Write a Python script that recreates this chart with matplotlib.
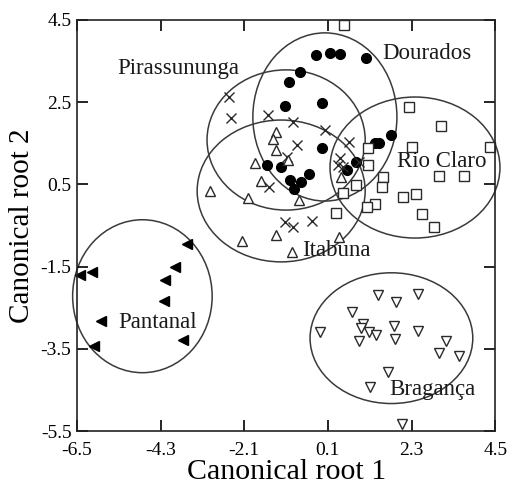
import matplotlib
matplotlib.use("Agg")
import matplotlib.pyplot as plt
from matplotlib.patches import Ellipse

plt.rcParams['font.family'] = ['Liberation Serif', 'DejaVu Serif']

# Data (canonical root 1, canonical root 2)
dourados_x = [-0.21, 0.16, 0.42, 1.11, -0.63, -0.92, -1.03, -0.05, 1.76, 1.34, 1.45, -0.05, 0.84, 0.61, -1.50, -1.13, -0.89, -0.79, -0.61, -0.39]
dourados_y = [3.65, 3.70, 3.67, 3.58, 3.23, 2.99, 2.41, 2.48, 1.70, 1.51, 1.51, 1.39, 1.05, 0.85, 0.97, 0.92, 0.61, 0.39, 0.56, 0.75]

rioclaro_x = [0.53, 2.24, 3.08, 4.37, 2.32, 1.16, 1.16, 3.03, 3.68, 1.55, 1.53, 0.84, 0.50, 2.08, 2.42, 1.34, 1.13, 0.32, 2.58, 2.89]
rioclaro_y = [4.38, 2.38, 1.92, 1.41, 1.41, 1.39, 0.97, 0.70, 0.70, 0.68, 0.44, 0.49, 0.29, 0.19, 0.27, 0.02, -0.05, -0.20, -0.22, -0.54]

pirassununga_x = [-2.50, -2.45, -1.47, -0.82, 0.03, -0.71, 0.66, -0.97, 0.92, 0.42, 0.37, 0.50, -1.45, -1.03, -0.82, -0.32]
pirassununga_y = [2.63, 2.12, 2.19, 2.02, 1.82, 1.46, 1.53, 1.17, 1.05, 1.14, 0.97, 0.92, 0.44, -0.41, -0.54, -0.39]

itabuna_x = [-1.26, -1.34, -1.26, -1.82, -0.95, -1.66, -3.00, -2.00, -0.66, 0.45, -1.26, -2.16, 0.39, -0.84]
itabuna_y = [1.77, 1.60, 1.34, 1.02, 1.09, 0.58, 0.34, 0.17, 0.12, 0.68, -0.73, -0.88, -0.78, -1.14]

pantanal_x = [-3.61, -3.92, -4.18, -4.21, -6.11, -6.42, -5.88, -3.72, -6.05]
pantanal_y = [-0.95, -1.50, -1.83, -2.34, -1.64, -1.70, -2.82, -3.29, -3.43]

braganca_x = [1.41, 1.89, 2.47, 0.73, 1.03, 0.97, 1.17, 1.36, 0.93, 1.85, 1.87, 2.48, -0.12, 3.21, 3.03, 3.56, 1.67, 1.21, 2.04]
braganca_y = [-2.19, -2.37, -2.17, -2.61, -2.90, -3.00, -3.08, -3.16, -3.30, -2.95, -3.27, -3.07, -3.10, -3.31, -3.59, -3.68, -4.06, -4.44, -5.33]

# Group ellipses: (name, center x, center y, width, height)
ell_names = ['Pirassununga', 'Dourados', 'Itabuna', 'Rio Claro', 'Pantanal', 'Bragança']
ell_cx = [-1.00, 0.02, -1.13, 2.39, -4.78, 1.77]
ell_cy = [1.58, 2.14, 0.34, 0.91, -2.22, -3.24]
ell_w = [4.16, 3.79, 4.42, 4.47, 3.67, 4.28]
ell_h = [3.41, 4.09, 3.45, 3.43, 3.72, 3.18]

# Group labels
lab_text = ['Pirassununga', 'Dourados', 'Rio Claro', 'Itabuna', 'Pantanal', 'Bragança']
lab_x = [-3.83, 2.70, 3.10, 0.32, -4.38, 2.84]
lab_y = [3.33, 3.69, 1.05, -1.10, -2.86, -4.48]

xticks = [-6.5, -4.3, -2.1, 0.1, 2.3, 4.5]
yticks = [-5.5, -3.5, -1.5, 0.5, 2.5, 4.5]

fig = plt.figure(figsize=(5.10, 4.86), dpi=100)
ax = fig.add_axes([0.151, 0.113, 0.820, 0.846])

lc = '#2a2a2a'
for cx, cy, w, h in zip(ell_cx, ell_cy, ell_w, ell_h):
    ax.add_patch(Ellipse((cx, cy), w, h, fill=False, edgecolor='#3a3a3a', lw=1.1, clip_on=False))

ax.plot(dourados_x, dourados_y, 'o', ms=7, color='black', mec='black', clip_on=False)
ax.plot(rioclaro_x, rioclaro_y, 's', ms=6.5, mfc='white', mec=lc, mew=1.0, clip_on=False)
ax.plot(pirassununga_x, pirassununga_y, 'x', ms=6.5, color=lc, mew=1.0, clip_on=False)
ax.plot(itabuna_x, itabuna_y, '^', ms=7, mfc='white', mec=lc, mew=1.0, clip_on=False)
ax.plot(pantanal_x, pantanal_y, '<', ms=7, color='black', clip_on=False)
ax.plot(braganca_x, braganca_y, 'v', ms=7, mfc='white', mec=lc, mew=1.0, clip_on=False)

for t, x, y in zip(lab_text, lab_x, lab_y):
    ax.text(x, y, t, fontsize=16.5, ha='center', va='center', color='#1a1a1a')

ax.set_xlim(-6.5, 4.5)
ax.set_ylim(-5.5, 4.5)
ax.set_xticks(xticks)
ax.set_yticks(yticks)
ax.set_xticklabels([f'{v:.1f}' for v in xticks], fontsize=14)
ax.set_yticklabels([f'{v:.1f}' for v in yticks], fontsize=14)
ax.tick_params(direction='in', length=8, width=1.2, top=True, right=True)
ax.tick_params(axis='x', pad=8)
ax.tick_params(axis='y', pad=4)
for s in ax.spines.values():
    s.set_linewidth(1.2)
    s.set_color('#222222')

ax.set_xlabel('Canonical root 1', fontsize=21.5, labelpad=0)
ax.set_ylabel('Canonical root 2', fontsize=21, labelpad=4)

fig.savefig('out.png', dpi=100)
